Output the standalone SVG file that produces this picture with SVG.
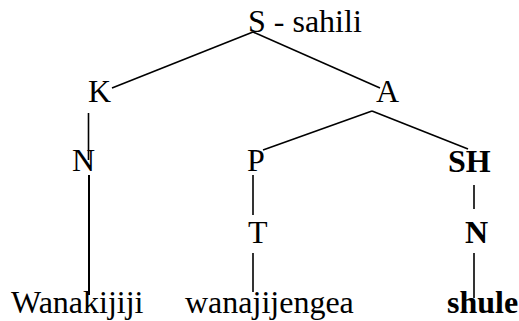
<svg xmlns="http://www.w3.org/2000/svg" width="519" height="321" viewBox="0 0 519 321">
<style>
text{font-family:'Liberation Serif','Times New Roman',Times,serif;font-size:32px;fill:#000}
.b{font-weight:bold}
.e{stroke:#000;stroke-width:1.6;fill:none}
</style>
<rect width="519" height="321" fill="#fff"/>
<g id="connectors">
<line class="e" x1="253" y1="32" x2="112" y2="88"/>
<line class="e" x1="253" y1="32" x2="380" y2="88"/>
<line class="e" x1="88.5" y1="113" x2="88.5" y2="160"/>
<line class="e" x1="89" y1="175" x2="89" y2="295" style="stroke-width:2"/>
<line class="e" x1="372" y1="111" x2="263" y2="150"/>
<line class="e" x1="372" y1="111" x2="468" y2="149"/>
<line class="e" x1="253" y1="175" x2="253" y2="215"/>
<line class="e" x1="253" y1="253" x2="253" y2="292"/>
<line class="e" x1="474" y1="185" x2="474" y2="209"/>
<line class="e" x1="474" y1="253" x2="474" y2="298"/>
</g>
<g id="S"><text x="248" y="32" font-family="Liberation Serif">S - sahili</text></g>
<g id="K"><text x="88" y="102">K</text></g>
<g id="A"><text x="376" y="102">A</text></g>
<g id="N1"><text x="72" y="171">N</text></g>
<g id="P"><text x="247" y="171">P</text></g>
<g id="SH"><text class="b" x="448" y="172">SH</text></g>
<g id="T"><text x="248" y="243">T</text></g>
<g id="N2"><text class="b" x="465" y="243">N</text></g>
<g id="Wanakijiji"><text x="11" y="313">Wanakijiji</text></g>
<g id="wanajijengea"><text x="185" y="313">wanajijengea</text></g>
<g id="shule"><text class="b" x="447" y="313">shule</text></g>
</svg>
